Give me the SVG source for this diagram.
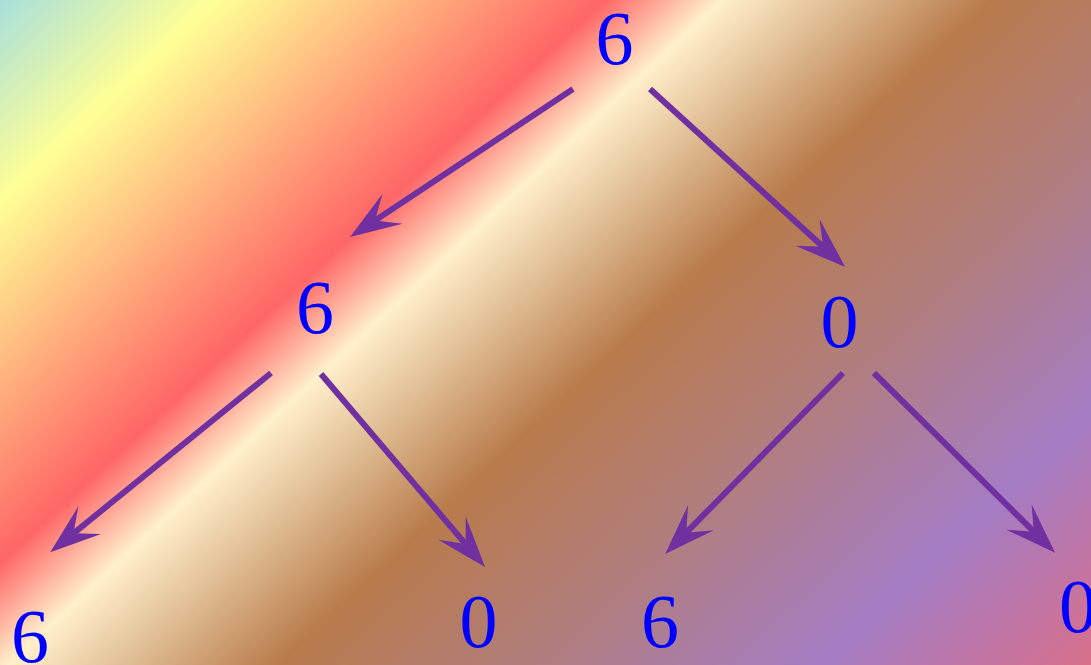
<svg xmlns="http://www.w3.org/2000/svg" width="1091" height="665" viewBox="0 0 1091 665">
  <defs>
    <linearGradient id="bg" gradientUnits="userSpaceOnUse" x1="0" y1="0" x2="838" y2="900">
      <stop offset="0" stop-color="#a8e0dc"/>
      <stop offset="0.12" stop-color="#ffff96"/>
      <stop offset="0.335" stop-color="#ff6666"/>
      <stop offset="0.40" stop-color="#fff0cc"/>
      <stop offset="0.55" stop-color="#b87b4b"/>
      <stop offset="0.70" stop-color="#b07e82"/>
      <stop offset="0.85" stop-color="#a47cc4"/>
      <stop offset="1" stop-color="#d8708a"/>
    </linearGradient>
    <marker id="ah" markerUnits="userSpaceOnUse" orient="auto" refX="0" refY="0" overflow="visible" markerWidth="10" markerHeight="10">
      <path d="M30,0 L-21,-18 L0,0 L-21,18 Z" fill="#7030a0"/>
    </marker>
  </defs>
  <style>
    .lbl { font-family: "Liberation Serif", "Times New Roman", serif; font-size: 76px; fill: #0000ff; text-anchor: middle; }
    .edge { stroke: #7030a0; stroke-width: 6; fill: none; marker-end: url(#ah); }
  </style>
  <rect x="0" y="0" width="1091" height="665" fill="url(#bg)"/>
  <g id="connectors">
    <line class="edge" x1="573" y1="89" x2="375" y2="220.4"/>
    <line class="edge" x1="650" y1="89" x2="823" y2="246.7"/>
    <line class="edge" x1="271" y1="373" x2="73.5" y2="533.3"/>
    <line class="edge" x1="321" y1="374" x2="465.6" y2="544.1"/>
    <line class="edge" x1="843" y1="373" x2="686.2" y2="532.7"/>
    <line class="edge" x1="874" y1="373" x2="1033.8" y2="531.7"/>
  </g>
  <g id="n-root"><text class="lbl" x="614.5" y="64">6</text></g>
  <g id="n-l"><text class="lbl" x="315" y="333">6</text></g>
  <g id="n-r"><text class="lbl" x="839.5" y="347">0</text></g>
  <g id="n-ll"><text class="lbl" x="30" y="662">6</text></g>
  <g id="n-lr"><text class="lbl" x="478.5" y="647">0</text></g>
  <g id="n-rl"><text class="lbl" x="660" y="647">6</text></g>
  <g id="n-rr"><text class="lbl" x="1078" y="632">0</text></g>
</svg>
